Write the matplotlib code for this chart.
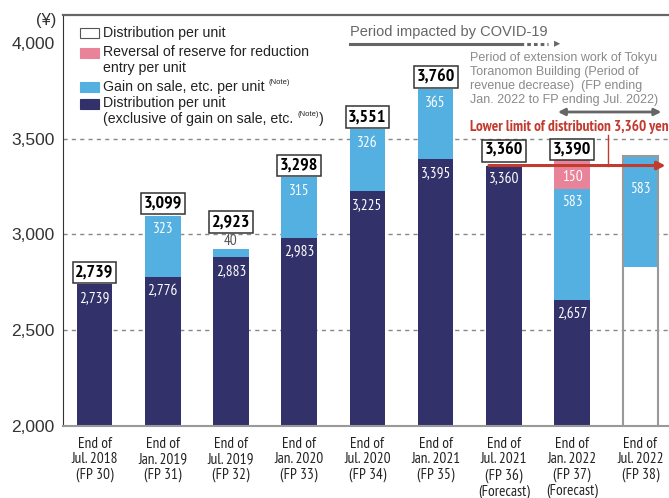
import matplotlib
matplotlib.use("Agg")
import matplotlib.pyplot as plt
from matplotlib import font_manager as fm
from matplotlib.patches import Rectangle

# data (yen per unit)
periods = ["End of\nJul. 2018\n(FP 30)", "End of\nJan. 2019\n(FP 31)", "End of\nJul. 2019\n(FP 32)",
           "End of\nJan. 2020\n(FP 33)", "End of\nJul. 2020\n(FP 34)", "End of\nJan. 2021\n(FP 35)",
           "End of\nJul. 2021\n(FP 36)\n(Forecast)", "End of\nJan. 2022\n(FP 37)\n(Forecast)",
           "End of\nJul. 2022\n(FP 38)"]
dist_excl = [2739, 2776, 2883, 2983, 3225, 3395, 3360, 2657]
gain_sale = [0, 323, 40, 315, 326, 365, 0, 583]
reversal = [0, 0, 0, 0, 0, 0, 0, 150]
totals = [2739, 3099, 2923, 3298, 3551, 3760, 3360, 3390]
fp38_base = 2828   # part shown white (undisclosed)
fp38_gain = 583
lower_limit = 3360

NAVY = "#33316a"
BLUE = "#55b0e2"
PINK = "#e8839a"
RED = "#c23b2f"
GRAY = "#666666"

# pick a condensed face if one is around
installed = {f.name for f in fm.fontManager.ttflist}
narrow = "Liberation Sans"
for cand in ["PT Sans Narrow", "Liberation Sans Narrow", "Archivo Narrow", "Roboto Condensed",
             "Fira Sans Condensed", "Asap Condensed", "Encode Sans Condensed", "Barlow Semi Condensed"]:
    if cand in installed:
        narrow = cand
        break
NARROW = [narrow, "DejaVu Sans"]
plt.rcParams["font.family"] = ["Liberation Sans", "DejaVu Sans"]

fig = plt.figure(figsize=(6.69, 4.98), dpi=100)
ax = fig.add_axes([0.0942, 0.1446, 0.9058, 0.8253])

w = 0.52
n = len(dist_excl)
xs = list(range(n))

ax.bar(xs, dist_excl, width=w, color=NAVY, zorder=2)
ax.bar(xs, gain_sale, width=w, bottom=dist_excl, color=BLUE, zorder=2)
bottoms3 = [d + g for d, g in zip(dist_excl, gain_sale)]
ax.bar(xs, reversal, width=w, bottom=bottoms3, color=PINK, zorder=2)

# FP 38: white total bar with blue gain on top
ax.bar(8, fp38_gain, width=w, bottom=fp38_base, color=BLUE, zorder=2)
ax.bar(8, fp38_base + fp38_gain, width=w, facecolor="none", edgecolor="#999999", linewidth=1.5, zorder=3)

ax.set_ylim(2000, 4146)
ax.set_xlim(-0.462, 8.42)

for y in [2500, 3000, 3500]:
    ax.axhline(y, color="#888888", linestyle=(0, (3, 3)), linewidth=1, zorder=1)

# labels inside / above bars
for i in range(n):
    ax.annotate(f"{dist_excl[i]:,}", (i, dist_excl[i]), xytext=(0, -10), textcoords="offset points",
                ha="center", va="center", color="white", fontsize=11, family=NARROW, zorder=4)
    if gain_sale[i] >= 100:
        ax.annotate(f"{gain_sale[i]:,}", (i, dist_excl[i] + gain_sale[i]), xytext=(0, -10),
                    textcoords="offset points", ha="center", va="center", color="white",
                    fontsize=11, family=NARROW, zorder=4)
    elif gain_sale[i] > 0:
        ax.annotate(f"{gain_sale[i]:,}", (i, dist_excl[i] + gain_sale[i]), xytext=(0, 1),
                    textcoords="offset points", ha="center", va="bottom", color="#555555",
                    fontsize=11, family=NARROW, zorder=4)
    if reversal[i] > 0:
        ax.text(i, bottoms3[i] + reversal[i] / 2 - 15, f"{reversal[i]:,}", ha="center", va="center",
                color="white", fontsize=11, family=NARROW, zorder=4)
    off = {2: 19.5, 6: 10.5, 7: 7.5}.get(i, 8.5)
    ax.annotate(f"{totals[i]:,}", (i, totals[i]), xytext=(0, off), textcoords="offset points",
                ha="center", va="center", fontsize=13, fontweight="bold", family=NARROW, zorder=5,
                bbox=dict(boxstyle="square,pad=0.15", facecolor="white", edgecolor="#333333", linewidth=1.1))

ax.annotate(f"{fp38_gain:,}", (8, fp38_base + fp38_gain), xytext=(0, -24), textcoords="offset points",
            ha="center", va="center", color="white", fontsize=11, family=NARROW, zorder=4)

# lower limit arrow
ax.annotate("", xy=(8.41, lower_limit), xytext=(5.74, lower_limit),
            arrowprops=dict(arrowstyle="-|>", color=RED, lw=2.2, mutation_scale=12), zorder=6)
ax.plot([7.53, 7.53], [lower_limit, 3520], color=RED, lw=1, zorder=6)
ax.text(8.41, 3561, "Lower limit of distribution 3,360 yen", ha="right", va="center", color=RED,
        fontsize=11, fontweight="bold", family=NARROW, zorder=6)

# COVID-19 period
tr = ax.transAxes
ax.text(0.473, 0.958, "Period impacted by COVID-19", transform=tr, ha="left", va="center",
        color=GRAY, fontsize=10.5)
ax.plot([0.473, 0.754], [0.93, 0.93], transform=tr, color=GRAY, lw=2.2)
ax.plot([0.754, 0.80], [0.93, 0.93], transform=tr, color=GRAY, lw=2.2, linestyle=(0, (1.2, 1)))
ax.annotate("", xy=(0.825, 0.93), xytext=(0.795, 0.93), xycoords=tr,
            arrowprops=dict(arrowstyle="-|>", color=GRAY, lw=0, mutation_scale=11))

ax.text(0.672, 0.909, "Period of extension work of Tokyu\nToranomon Building (Period of\n"
        "revenue decrease)  (FP ending\nJan. 2022 to FP ending Jul. 2022)",
        transform=tr, ha="left", va="top", color="#8a8a8a", fontsize=9, linespacing=1.22)
ax.annotate("", xy=(0.992, 0.764), xytext=(0.812, 0.764), xycoords=tr,
            arrowprops=dict(arrowstyle="<|-|>", color=GRAY, lw=2, mutation_scale=10))


# legend drawn by hand (pixel rows converted to axes fraction)
def fy(py):
    return (426 - py) / 411


handles = [("white", "#555555", 33), (PINK, PINK, 53), (BLUE, BLUE, 87), (NAVY, NAVY, 104)]
for fc, ec, py in handles:
    ax.add_patch(Rectangle((0.028, fy(py) - 0.012), 0.032, 0.024, transform=tr,
                           facecolor=fc, edgecolor=ec, lw=0.8, zorder=6))
lines = [("Distribution per unit", 33), ("Reversal of reserve for reduction", 52),
         ("entry per unit", 68), ("Gain on sale, etc. per unit", 87),
         ("Distribution per unit", 103), ("(exclusive of gain on sale, etc.", 119)]
txts = []
for s, py in lines:
    txts.append(ax.text(0.066, fy(py), s, transform=tr, ha="left", va="center",
                        fontsize=10.2, color="#222222", zorder=6))
ax.annotate("(Note)", xy=(1, 0.85), xycoords=txts[3], xytext=(3, 0), textcoords="offset points",
            fontsize=5.5, color="#222222", va="center")
note2 = ax.annotate("(Note)", xy=(1, 0.85), xycoords=txts[5], xytext=(3, 0), textcoords="offset points",
                    fontsize=5.5, color="#222222", va="center")
ax.annotate(")", xy=(1, 0), xycoords=note2, xytext=(0, -6), textcoords="offset points",
            fontsize=10.2, color="#222222", va="bottom")

# axes styling
ax.set_xticks(xs + [8])
ax.set_xticklabels(periods, fontsize=11, family=NARROW, linespacing=1.12, color="#222222")
ax.set_yticks([2000, 2500, 3000, 3500, 4000])
ax.set_yticklabels(["2,000", "2,500", "3,000", "3,500", "4,000"], fontsize=12.5, color="#333333")
ax.tick_params(length=0, pad=6)
ax.tick_params(axis="x", pad=8)
ax.spines["right"].set_visible(False)
ax.spines["top"].set_color("#666666")
ax.spines["top"].set_linewidth(1.6)
ax.spines["left"].set_color("#333333")
ax.spines["bottom"].set_color("#999999")
ax.spines["bottom"].set_linewidth(1.5)
fig.text(0.085, 0.958, "(¥)", ha="right", va="center", fontsize=12, color="#333333")

fig.savefig("out.png", dpi=100)
